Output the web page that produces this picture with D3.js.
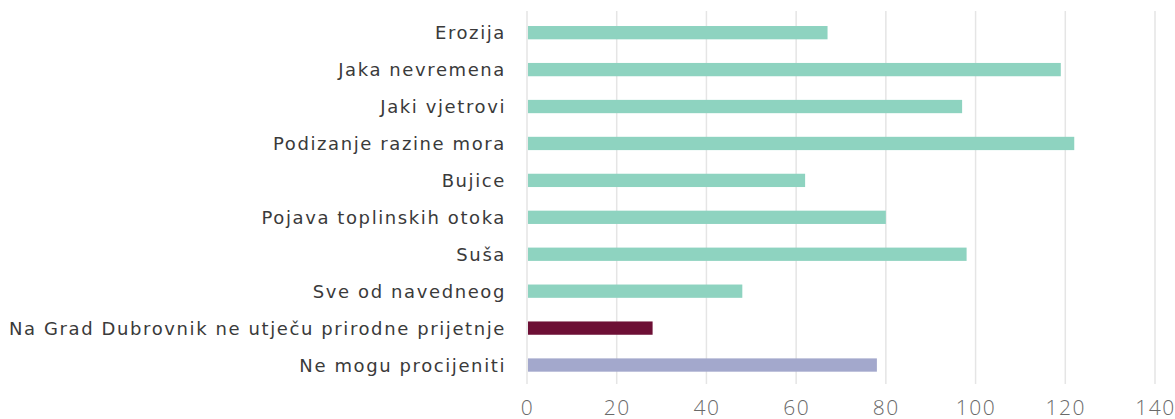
<!DOCTYPE html>
<html>
<head>
<meta charset="utf-8">
<script src="https://cdn.jsdelivr.net/npm/d3@7"></script>
<style>
  html, body { margin: 0; padding: 0; background: #ffffff; }
  svg { display: block; }
</style>
</head>
<body>
<svg id="chart" width="1175" height="419"></svg>
<script>
// Natural hazards affecting the city — number of responses
const categories = [
  "Erozija",
  "Jaka nevremena",
  "Jaki vjetrovi",
  "Podizanje razine mora",
  "Bujice",
  "Pojava toplinskih otoka",
  "Suša",
  "Sve od navedneog",
  "Na Grad Dubrovnik ne utječu prirodne prijetnje",
  "Ne mogu procijeniti"
];
const values = [67, 119, 97, 122, 62, 80, 98, 48, 28, 78];
const groups = ["hazard", "hazard", "hazard", "hazard", "hazard", "hazard", "hazard", "hazard", "none", "unsure"];
const tickValues = [0, 20, 40, 60, 80, 100, 120, 140];

const colors = { hazard: "#8ed3c0", none: "#6d0f35", unsure: "#a3a8cc" };

const svg = d3.select("#chart");
const plot = { left: 527, right: 1155, top: 14.2, bottom: 383.5 };

const x = d3.scaleLinear().domain([0, 140]).range([plot.left, plot.right]);
const y = d3.scaleBand().domain(categories).range([plot.top, plot.bottom]).paddingInner(0.64).paddingOuter(0.32);

// vertical gridlines
svg.append("g")
  .selectAll("line")
  .data(tickValues)
  .join("line")
  .attr("x1", d => x(d)).attr("x2", d => x(d))
  .attr("y1", 11).attr("y2", 384)
  .attr("stroke", "#e5e5e5")
  .attr("stroke-width", 1.5);

// bars
svg.append("g")
  .selectAll("rect")
  .data(categories)
  .join("rect")
  .attr("x", x(0) + 1)
  .attr("y", d => y(d))
  .attr("width", (d, i) => x(values[i]) - x(0) - 1)
  .attr("height", y.bandwidth())
  .attr("fill", (d, i) => colors[groups[i]]);

// category labels
const yAxis = svg.append("g")
  .attr("transform", `translate(${plot.left}, 0)`)
  .call(d3.axisLeft(y).tickSize(0).tickPadding(21));
yAxis.select(".domain").remove();
yAxis.selectAll("text")
  .attr("font-family", "'DejaVu Sans', sans-serif")
  .attr("font-size", 18)
  .attr("letter-spacing", "1.6px")
  .attr("dy", "0.36em")
  .attr("fill", "#3a3a3a");

// value axis labels
const xAxis = svg.append("g")
  .attr("transform", "translate(0, 384)")
  .call(d3.axisBottom(x).tickValues(tickValues).tickSize(0).tickPadding(16));
xAxis.select(".domain").remove();
xAxis.selectAll("text")
  .attr("font-family", "'Open Sans', sans-serif")
  .attr("font-weight", 300)
  .attr("font-size", 21)
  .attr("letter-spacing", "1.5px")
  .attr("fill", "#6a6a6a");
</script>
</body>
</html>
